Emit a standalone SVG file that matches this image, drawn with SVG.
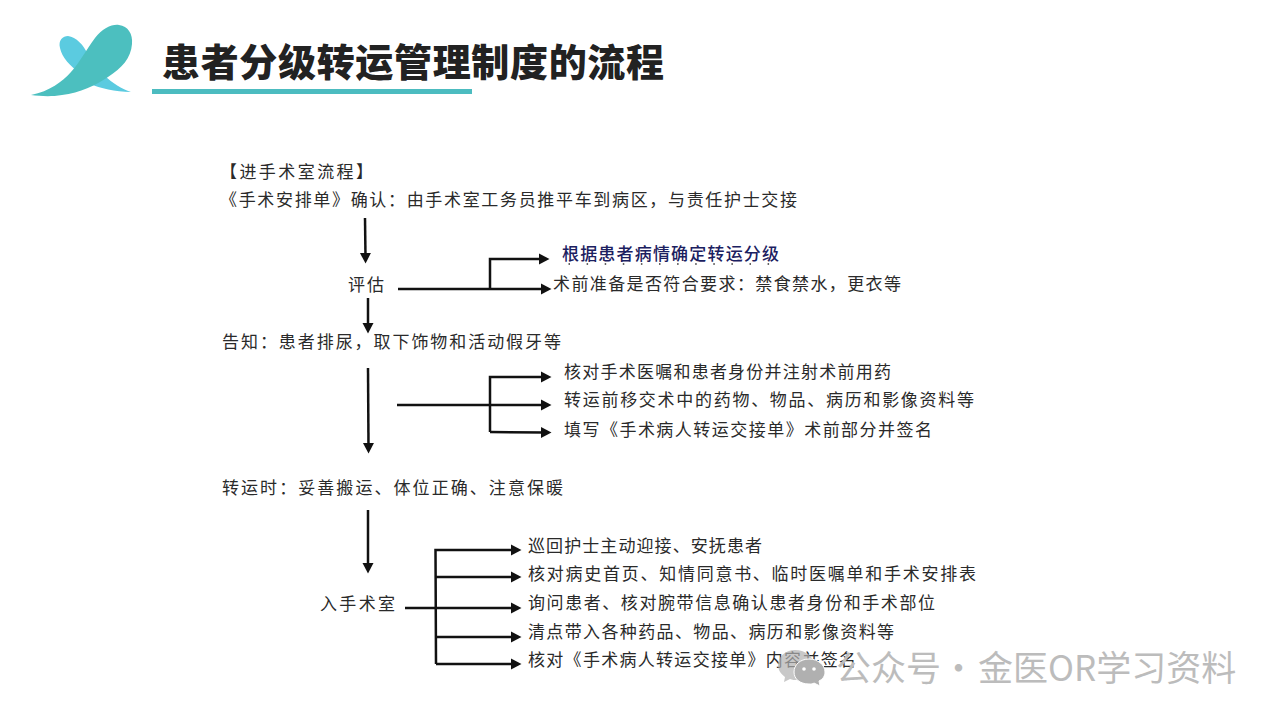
<svg xmlns="http://www.w3.org/2000/svg" width="1280" height="720" viewBox="0 0 1280 720">
<style>
text{font-family:"Noto Sans CJK SC","Noto Sans",sans-serif;}
.b{font-size:17px;fill:#2a2a2a;}
.c{fill:none;stroke:#111;stroke-width:2.500;}
.w{font-size:35px;fill:#bcbcbc;}
</style>
<defs>
<marker id="h" markerUnits="userSpaceOnUse" markerWidth="13" markerHeight="13" refX="4" refY="6" orient="auto"><path d="M0,0.500 L10.500,6 L0,11.500 z" fill="#111"/></marker>
</defs>
<rect width="1280" height="720" fill="#fff"/>
<g id="logo">
<path d="M60,48 C58,40 63,36 68,36 C76,37 84,45 88,55 L80,74 C70,65 62,58 60,48 z M90,84 C100,88 115,92 131,92 C122,89 112,83 105,76 z" fill="#5bcbe0"/>
<path d="M31,95 C50,91 62,82 71,72 C80,62 86,50 95,38 C103,28 112,24 119,25 C128,26 133,34 132,44 C131,58 122,68 108,77 C96,85 80,93 62,95 C50,97 40,96 31,95 z" fill="#4cbfbf"/>
</g>
<g id="title">
<text x="162" y="76" font-size="38" font-weight="900" fill="#222" textLength="502" lengthAdjust="spacing">患者分级转运管理制度的流程</text>
<rect x="152" y="89" width="320" height="5" fill="#4cbcc0"/>
</g>
<g id="connectors">
<path class="c" marker-end="url(#h)" d="M365,218 L365.500,257"/>
<path class="c" marker-end="url(#h)" d="M368,298 L368,327"/>
<path class="c" marker-end="url(#h)" d="M398,289 L545,289"/>
<path class="c" marker-end="url(#h)" d="M490,289 L490,259 L543,259"/>
<path class="c" marker-end="url(#h)" d="M368,368 L368.500,447"/>
<path class="c" marker-end="url(#h)" d="M397,405 L545,405"/>
<path class="c" marker-end="url(#h)" d="M490,432 L490,377 L545,377"/>
<path class="c" marker-end="url(#h)" d="M490,432 L545,432.500"/>
<path class="c" marker-end="url(#h)" d="M368,510 L368,567"/>
<path class="c" marker-end="url(#h)" d="M405,608 L515,608"/>
<path class="c" marker-end="url(#h)" d="M436,664 L435.500,550 L515,550"/>
<path class="c" marker-end="url(#h)" d="M436,577 L515,577"/>
<path class="c" marker-end="url(#h)" d="M436,637 L515,637"/>
<path class="c" marker-end="url(#h)" d="M436,664 L515,664"/>
</g>
<g id="n1"><text class="b" x="220" y="178" textLength="153" lengthAdjust="spacing">【进手术室流程】</text></g>
<g id="n2"><text class="b" x="220" y="206" textLength="577" lengthAdjust="spacing">《手术安排单》确认：由手术室工务员推平车到病区，与责任护士交接</text></g>
<g id="n3"><text class="b" x="348" y="291" textLength="36" lengthAdjust="spacing">评估</text></g>
<g id="n4"><text class="b" x="562" y="260" textLength="217" lengthAdjust="spacing" style="fill:#1b2060;font-weight:500">根据患者病情确定转运分级</text>
<path d="M568.500,264 H772" fill="none" stroke="#333" stroke-width="1.500" stroke-dasharray="1.500 16.600"/></g>
<g id="n5"><text class="b" x="553" y="290" textLength="348" lengthAdjust="spacing">术前准备是否符合要求：禁食禁水，更衣等</text></g>
<g id="n6"><text class="b" x="222" y="348" textLength="339" lengthAdjust="spacing">告知：患者排尿，取下饰物和活动假牙等</text></g>
<g id="n7"><text class="b" x="564" y="378" textLength="327" lengthAdjust="spacing">核对手术医嘱和患者身份并注射术前用药</text></g>
<g id="n8"><text class="b" x="564" y="406" textLength="410" lengthAdjust="spacing">转运前移交术中的药物、物品、病历和影像资料等</text></g>
<g id="n9"><text class="b" x="564" y="436" textLength="368" lengthAdjust="spacing">填写《手术病人转运交接单》术前部分并签名</text></g>
<g id="n10"><text class="b" x="222" y="494" textLength="341" lengthAdjust="spacing">转运时：妥善搬运、体位正确、注意保暖</text></g>
<g id="n11"><text class="b" x="320" y="610" textLength="75" lengthAdjust="spacing">入手术室</text></g>
<g id="n12"><text class="b" x="528" y="552" textLength="234" lengthAdjust="spacing">巡回护士主动迎接、安抚患者</text></g>
<g id="n13"><text class="b" x="528" y="580" textLength="448" lengthAdjust="spacing">核对病史首页、知情同意书、临时医嘱单和手术安排表</text></g>
<g id="n14"><text class="b" x="528" y="609" textLength="407" lengthAdjust="spacing">询问患者、核对腕带信息确认患者身份和手术部位</text></g>
<g id="n15"><text class="b" x="528" y="638" textLength="366" lengthAdjust="spacing">清点带入各种药品、物品、病历和影像资料等</text></g>
<g id="n16"><text class="b" x="528" y="666" textLength="328" lengthAdjust="spacing">核对《手术病人转运交接单》内容并签名</text></g>
<g id="watermark">
<path d="M795,650 C785,650 778,657 778,665 C778,670 781,674 785,677 L784,682 L790,679 C792,680 795,680 797,680 C807,680 814,673 814,665 C814,657 806,650 795,650 z" fill="#b0b0b0" opacity="0.7"/>
<path d="M809,659 C800,659 794,665 794,672 C794,679 800,684 809,684 C811,684 813,684 814,683 L820,686 L819,681 C823,679 825,676 825,672 C825,665 818,659 809,659 z" fill="#b0b0b0" stroke="#fff" stroke-width="1"/>
<circle cx="804" cy="669" r="1.800" fill="#fff"/><circle cx="814" cy="669" r="1.800" fill="#fff"/>
<text class="w" y="681"><tspan x="836">公众号</tspan><tspan x="941">·</tspan><tspan x="978">金医OR学习资料</tspan></text>
</g>
</svg>
